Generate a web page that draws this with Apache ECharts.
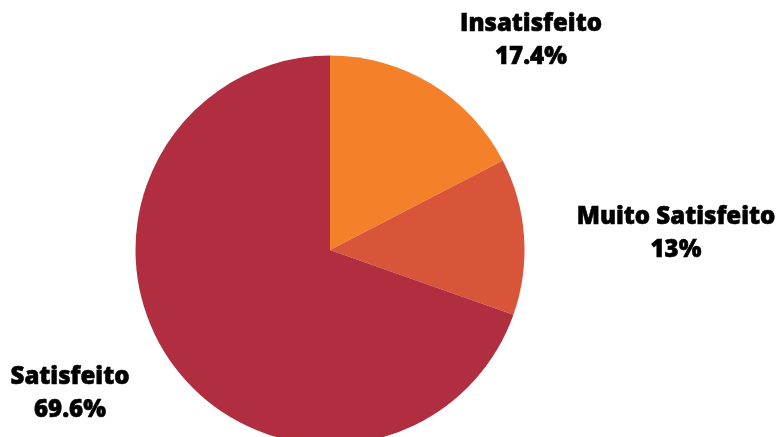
<!DOCTYPE html>
<html><head><meta charset="utf-8">
<script src="https://cdn.jsdelivr.net/npm/echarts@6/dist/echarts.min.js"></script>
<style>html,body{margin:0;padding:0;background:#fff}#c{width:777px;height:437px}</style>
</head><body><div id="c"></div>
<script>
const categories = ['Insatisfeito', 'Muito Satisfeito', 'Satisfeito'];
const values = [17.4, 13, 69.6];
const colors = ['#F5802A', '#D9553A', '#B02E40'];
const labelPos = [[531, 41], [676, 234], [70, 394]];

const chart = echarts.init(document.getElementById('c'), null, {renderer: 'canvas'});
chart.setOption({
  animation: false,
  series: [{
    type: 'pie',
    center: [330, 250],
    radius: 194.5,
    startAngle: 90,
    clockwise: true,
    data: categories.map((n, i) => ({name: n, value: values[i], itemStyle: {color: colors[i]}})),
    label: {
      show: true,
      position: 'outside',
      formatter: p => p.name + '\n' + p.value + '%',
      fontFamily: 'Open Sans',
      fontWeight: 800,
      fontSize: 24,
      lineHeight: 33,
      color: '#000',
      textBorderColor: '#000',
      textBorderWidth: 0.6,
      align: 'center',
      overflow: 'none',
      width: 400
    },
    labelLine: {show: false},
    labelLayout: function (p) {
      const pos = labelPos[p.dataIndex];
      return {x: pos[0], y: pos[1], align: 'center', verticalAlign: 'middle'};
    }
  }]
});
</script></body></html>
